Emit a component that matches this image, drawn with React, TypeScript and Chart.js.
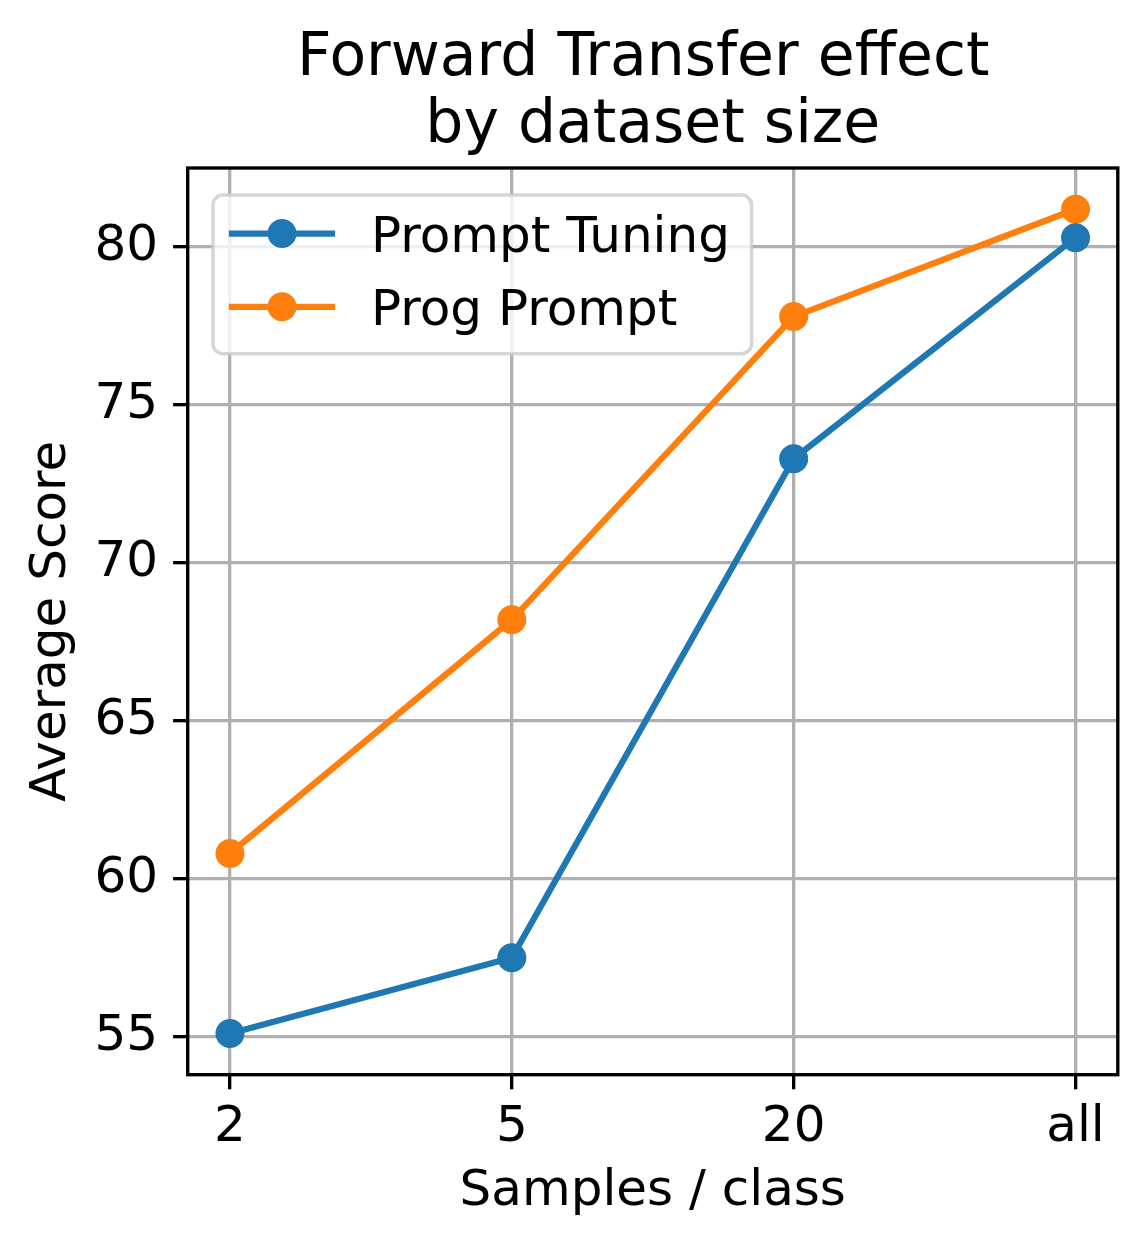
import React, { useEffect, useRef } from 'react';
import { Chart, registerables } from 'chart.js';

Chart.register(...registerables);

const categories = ['2', '5', '20', 'all'];
const promptTuning = [55.1, 57.5, 73.3, 80.3];
const progPrompt = [60.8, 68.2, 77.8, 81.2];
const yTicks = [55, 60, 65, 70, 75, 80];
const seriesLabels = ['Prompt Tuning', 'Prog Prompt'];
const seriesColors = ['#1f77b4', '#ff7f0e'];
const titleLines = ['Forward Transfer effect ', 'by dataset size'];
const xTitle = 'Samples / class';
const yTitle = 'Average Score';

const FONT = "'DejaVu Sans', 'Liberation Sans', sans-serif";
const W = 1147;
const H = 1247;

const frameAndLegend = {
  id: 'frameAndLegend',
  afterDatasetsDraw(chart: any) {
    const { ctx, chartArea: a } = chart;
    ctx.save();
    // spines
    ctx.strokeStyle = '#000000';
    ctx.lineWidth = 3.33;
    ctx.strokeRect(a.left, a.top, a.right - a.left, a.bottom - a.top);

    // legend box
    const bx = a.left + 25.3;
    const by = a.top + 27;
    const bw = 538.5;
    const bh = 158.7;
    ctx.beginPath();
    ctx.roundRect(bx, by, bw, bh, 10);
    ctx.fillStyle = 'rgba(255,255,255,0.8)';
    ctx.fill();
    ctx.strokeStyle = 'rgba(204,204,204,0.8)';
    ctx.lineWidth = 3.5;
    ctx.stroke();

    const datasets = chart.data.datasets;
    datasets.forEach((ds: any, i: number) => {
      const y = a.top + 65.5 + i * 73.3;
      const x0 = a.left + 44.3;
      const x1 = a.left + 144.3;
      ctx.beginPath();
      ctx.moveTo(x0, y);
      ctx.lineTo(x1, y);
      ctx.strokeStyle = ds.borderColor;
      ctx.lineWidth = 6.25;
      ctx.lineCap = 'square';
      ctx.stroke();
      ctx.beginPath();
      ctx.arc((x0 + x1) / 2, y, 14.5, 0, Math.PI * 2);
      ctx.fillStyle = ds.borderColor;
      ctx.fill();
      ctx.fillStyle = '#000000';
      ctx.font = `50px ${FONT}`;
      ctx.textAlign = 'left';
      ctx.textBaseline = 'alphabetic';
      ctx.fillText(ds.label, a.left + 183.3, y + 18.3);
    });
    ctx.restore();
  },
};

export default function App() {
  const ref = useRef<HTMLCanvasElement | null>(null);

  useEffect(() => {
    if (!ref.current) return;
    Chart.defaults.font.family = FONT;
    const gridCommon = {
      color: '#b0b0b0',
      lineWidth: 3.33,
      tickColor: '#000000',
      tickLength: 14.6,
      tickWidth: 3.33,
      drawOnChartArea: true,
    };
    const mkData = (vals: number[]) => vals.map((v, i) => ({ x: i, y: v }));
    const chart = new Chart(ref.current, {
      type: 'line',
      data: {
        datasets: [promptTuning, progPrompt].map((vals, i) => ({
          label: seriesLabels[i],
          data: mkData(vals),
          borderColor: seriesColors[i],
          backgroundColor: seriesColors[i],
          pointBackgroundColor: seriesColors[i],
          pointBorderWidth: 0,
          pointRadius: 14.5,
          pointHoverRadius: 14.5,
          borderWidth: 6.25,
          borderJoinStyle: 'round',
          tension: 0,
          fill: false,
          clip: false,
        })) as any,
      },
      options: {
        animation: false,
        responsive: false,
        events: [],
        layout: { padding: { top: 0, left: 0, right: 29.2, bottom: 0 } },
        plugins: {
          legend: { display: false },
          tooltip: { enabled: false },
          title: {
            display: true,
            text: titleLines,
            fullSize: false,
            color: '#000000',
            font: { size: 60, weight: 'normal', lineHeight: 1.1167, family: FONT },
            padding: { top: 25.7, bottom: 8.3 },
          },
        },
        scales: {
          x: {
            type: 'linear',
            min: -0.15,
            max: 3.15,
            afterBuildTicks: (s: any) => {
              s.ticks = categories.map((_, i) => ({ value: i }));
            },
            afterFit: (s: any) => {
              s.height = H - 1074.7;
            },
            ticks: {
              callback: (v: any) => categories[v] ?? '',
              color: '#000000',
              font: { size: 50, lineHeight: 1.2 },
              padding: 8.5,
              maxRotation: 0,
              autoSkip: false,
            },
            grid: gridCommon,
            border: { display: false },
            title: {
              display: true,
              text: xTitle,
              color: '#000000',
              font: { size: 50, lineHeight: 1.2 },
              padding: { top: 0, bottom: 24.8 },
            },
          },
          y: {
            type: 'linear',
            min: 53.795,
            max: 82.505,
            afterBuildTicks: (s: any) => {
              s.ticks = yTicks.map((v) => ({ value: v }));
            },
            afterFit: (s: any) => {
              s.width = 187.7;
            },
            ticks: {
              color: '#000000',
              font: { size: 50, lineHeight: 1.2 },
              padding: 15.1,
            },
            grid: gridCommon,
            border: { display: false },
            title: {
              display: true,
              text: yTitle,
              color: '#000000',
              font: { size: 50, lineHeight: 1.2 },
              padding: { top: 21.8, bottom: 0 },
            },
          },
        },
      } as any,
      plugins: [frameAndLegend],
    });
    return () => chart.destroy();
  }, []);

  return (
    <div style={{ position: 'fixed', left: 0, top: 0, width: W, height: H, background: '#ffffff' }}>
      <canvas ref={ref} width={W} height={H} style={{ display: 'block', width: W, height: H }} />
    </div>
  );
}
